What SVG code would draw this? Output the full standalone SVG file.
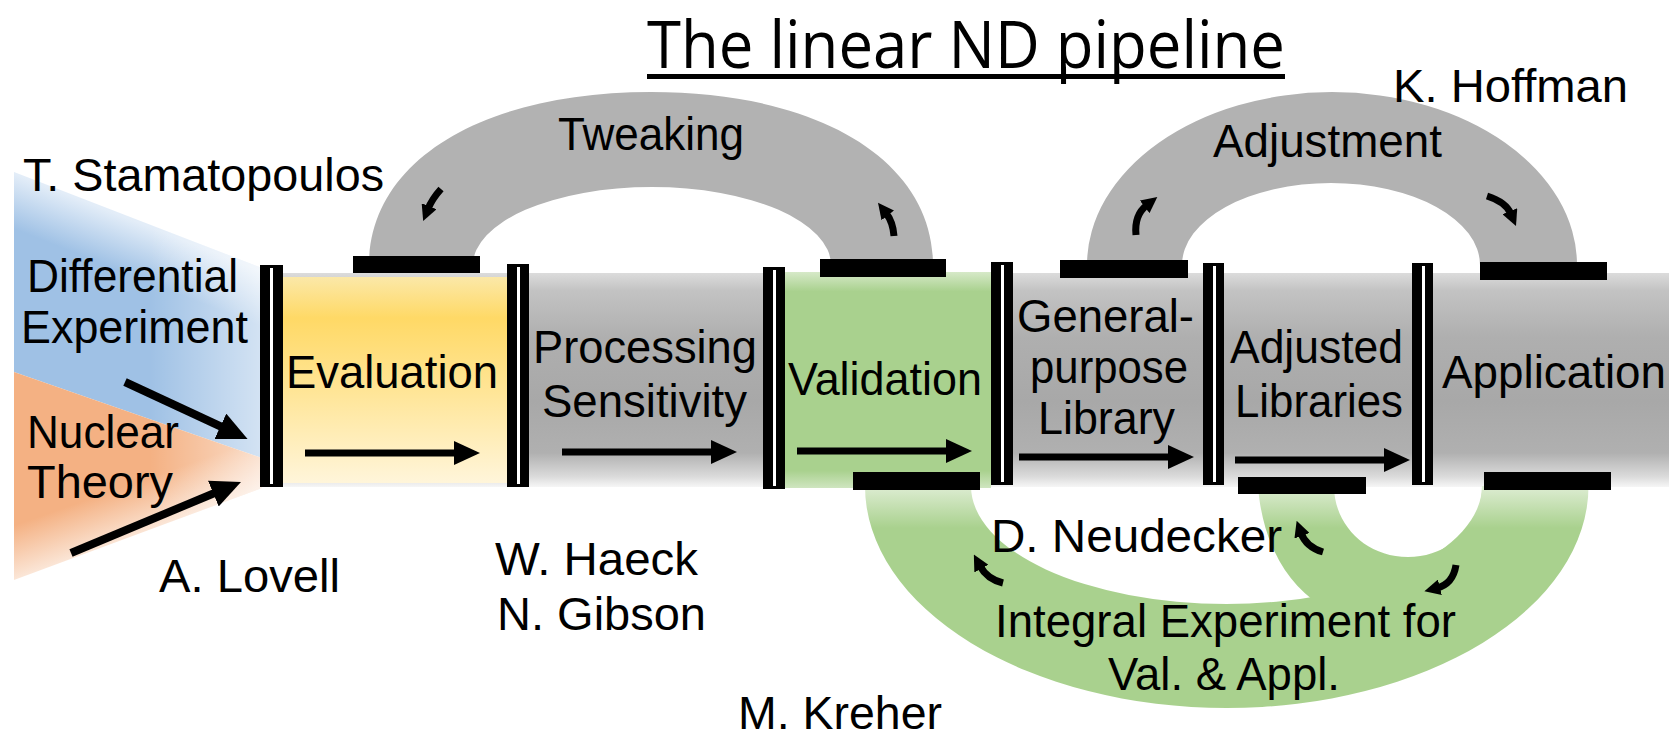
<svg xmlns="http://www.w3.org/2000/svg" width="1669" height="739" viewBox="0 0 1669 739">
<style>
  text { font-family: "Liberation Sans", Arial, sans-serif; font-size: 46px; fill: #000; }
  .title { font-family: "Open Sans", "Liberation Sans", sans-serif; font-size: 66px; }
  .cap { fill: #000; }
  .gap { fill: #fff; }
  .arch { fill: #b2b2b2; }
  .big { stroke: #000; stroke-width: 7; fill: none; marker-end: url(#bh); }
  .diag { stroke: #000; stroke-width: 8; fill: none; marker-end: url(#dh); }
  .small { stroke: #000; stroke-width: 7; fill: none; marker-end: url(#sh); }
</style>
<defs>
  <marker id="bh" markerUnits="userSpaceOnUse" viewBox="0 0 26 24" markerWidth="26" markerHeight="24" refX="4" refY="12" orient="auto"><path d="M0,0 L26,12 L0,24 z" fill="#000"/></marker>
  <marker id="dh" markerUnits="userSpaceOnUse" viewBox="0 0 30 28" markerWidth="30" markerHeight="28" refX="4" refY="14" orient="auto"><path d="M0,0 L30,14 L0,28 z" fill="#000"/></marker>
  <marker id="sh" markerUnits="userSpaceOnUse" viewBox="0 0 16 16" markerWidth="16" markerHeight="16" refX="3" refY="8" orient="auto"><path d="M0,0 L16,8 L0,16 z" fill="#000"/></marker>
  <linearGradient id="gBlue" gradientUnits="userSpaceOnUse" x1="137" y1="222" x2="118" y2="270">
    <stop offset="0" stop-color="#e3edf8"/><stop offset="1" stop-color="#9fc1e5"/>
  </linearGradient>
  <linearGradient id="gOrange" gradientUnits="userSpaceOnUse" x1="137" y1="536" x2="120" y2="488">
    <stop offset="0" stop-color="#fbe6d7"/><stop offset="1" stop-color="#f4b183"/>
  </linearGradient>
  <linearGradient id="gFadeR" gradientUnits="userSpaceOnUse" x1="150" y1="0" x2="262" y2="0">
    <stop offset="0" stop-color="#fff" stop-opacity="0"/><stop offset="1" stop-color="#fff" stop-opacity="0.55"/>
  </linearGradient>
  <linearGradient id="gPipe" gradientUnits="userSpaceOnUse" x1="0" y1="273" x2="0" y2="487">
    <stop offset="0" stop-color="#dcdcdc"/><stop offset="0.08" stop-color="#c3c3c3"/><stop offset="0.3" stop-color="#afafaf"/><stop offset="0.6" stop-color="#a8a8a8"/><stop offset="0.84" stop-color="#b0b0b0"/><stop offset="0.95" stop-color="#dadada"/><stop offset="1" stop-color="#f6f6f6"/>
  </linearGradient>
  <linearGradient id="gYellow" gradientUnits="userSpaceOnUse" x1="0" y1="277" x2="0" y2="483">
    <stop offset="0" stop-color="#fbe8a8"/><stop offset="0.2" stop-color="#ffd966"/><stop offset="0.55" stop-color="#ffe596"/><stop offset="1" stop-color="#fff5da"/>
  </linearGradient>
  <linearGradient id="gGreenBox" gradientUnits="userSpaceOnUse" x1="0" y1="272" x2="0" y2="488">
    <stop offset="0" stop-color="#d6e9c8"/><stop offset="0.09" stop-color="#a9d18e"/><stop offset="0.92" stop-color="#a9d18e"/><stop offset="1" stop-color="#cfe5c0"/>
  </linearGradient>
  <linearGradient id="gGreenLoop" gradientUnits="userSpaceOnUse" x1="0" y1="486" x2="0" y2="528">
    <stop offset="0" stop-color="#deedd3"/><stop offset="1" stop-color="#a9d18e"/>
  </linearGradient>
</defs>
<rect width="1669" height="739" fill="#fff"/>

<g id="title">
  <text class="title" x="647" y="68" textLength="638" lengthAdjust="spacingAndGlyphs">The linear ND pipeline</text>
  <rect x="647" y="74" width="638" height="5" fill="#000"/>
</g>

<g id="inputs">
  <polygon points="14,172 262,268 262,458 14,372" fill="url(#gBlue)"/>
  <polygon points="14,372 262,458 262,488 14,580" fill="url(#gOrange)"/>
  <polygon points="14,172 262,268 262,488 14,580" fill="url(#gFadeR)"/>
</g>

<g id="pipe">
  <rect x="283" y="273" width="1386" height="214" fill="url(#gPipe)"/>
</g>

<g id="tweaking-loop">
  <path class="arch" d="M369,265 C369,161 482,92 651,92 C820,92 933,161 933,265 L831,265 A179,78 0 0 0 473,265 Z"/>
  <text x="558" y="150" textLength="186" lengthAdjust="spacingAndGlyphs">Tweaking</text>
</g>

<g id="adjustment-loop">
  <path class="arch" d="M1087,265 A245,173 0 0 1 1577,265 L1480,265 A149,82 0 0 0 1182,265 Z"/>
  <text x="1213" y="157" textLength="229" lengthAdjust="spacingAndGlyphs">Adjustment</text>
</g>

<g id="integral-loop">
  <path d="M865,486 A361.75,222 0 0 0 1588.5,486 L1482,486 A255.5,118 0 0 1 971,486 Z" fill="url(#gGreenLoop)"/>
  <path d="M1258,486 C1262,540 1285,582 1320,605 L1480,640 L1589,486 L1482,486 C1482,525 1450,557 1408,557 C1366,557 1334,525 1334,486 Z" fill="url(#gGreenLoop)"/>
  <text x="995" y="637" textLength="461" lengthAdjust="spacingAndGlyphs">Integral Experiment for</text>
  <text x="1108" y="690" textLength="232" lengthAdjust="spacingAndGlyphs">Val. &amp; Appl.</text>
</g>

<g id="evaluation">
  <rect x="283" y="277" width="224" height="206" fill="url(#gYellow)"/>
  <text x="286" y="388" textLength="212" lengthAdjust="spacingAndGlyphs">Evaluation</text>
</g>

<g id="processing">
  <text x="533" y="363" textLength="224" lengthAdjust="spacingAndGlyphs">Processing</text>
  <text x="542" y="417" textLength="205" lengthAdjust="spacingAndGlyphs">Sensitivity</text>
</g>

<g id="validation">
  <rect x="785" y="272" width="206" height="216" fill="url(#gGreenBox)"/>
  <text x="788" y="395" textLength="194" lengthAdjust="spacingAndGlyphs">Validation</text>
</g>

<g id="general-library">
  <text x="1017" y="332" textLength="177" lengthAdjust="spacingAndGlyphs">General-</text>
  <text x="1030" y="383" textLength="158" lengthAdjust="spacingAndGlyphs">purpose</text>
  <text x="1038" y="434" textLength="137" lengthAdjust="spacingAndGlyphs">Library</text>
</g>

<g id="adjusted-libraries">
  <text x="1230" y="363" textLength="173" lengthAdjust="spacingAndGlyphs">Adjusted</text>
  <text x="1235" y="417" textLength="168" lengthAdjust="spacingAndGlyphs">Libraries</text>
</g>

<g id="application">
  <text x="1442" y="388" textLength="224" lengthAdjust="spacingAndGlyphs">Application</text>
</g>

<g id="differential-experiment">
  <text x="27" y="292" textLength="211" lengthAdjust="spacingAndGlyphs">Differential</text>
  <text x="21" y="343" textLength="227" lengthAdjust="spacingAndGlyphs">Experiment</text>
</g>

<g id="nuclear-theory">
  <text x="27" y="448" textLength="152" lengthAdjust="spacingAndGlyphs">Nuclear</text>
  <text x="27" y="498" textLength="146" lengthAdjust="spacingAndGlyphs">Theory</text>
</g>

<g id="gates">
  <rect class="cap" x="260" y="265" width="23" height="222"/><rect class="gap" x="270" y="268" width="3" height="216"/>
  <rect class="cap" x="507" y="264" width="22" height="223"/><rect class="gap" x="517" y="267" width="3" height="217"/>
  <rect class="cap" x="763" y="267" width="22" height="222"/><rect class="gap" x="773" y="270" width="3" height="216"/>
  <rect class="cap" x="991" y="262" width="22" height="223"/><rect class="gap" x="1001" y="265" width="3" height="217"/>
  <rect class="cap" x="1203" y="263" width="21" height="222"/><rect class="gap" x="1213" y="266" width="3" height="216"/>
  <rect class="cap" x="1412" y="263" width="21" height="222"/><rect class="gap" x="1422" y="266" width="3" height="216"/>
  <rect class="cap" x="353" y="256" width="127" height="17"/>
  <rect class="cap" x="820" y="259" width="126" height="18"/>
  <rect class="cap" x="1060" y="260" width="128" height="18"/>
  <rect class="cap" x="1480" y="262" width="127" height="18"/>
  <rect class="cap" x="853" y="472" width="127" height="18"/>
  <rect class="cap" x="1238" y="477" width="128" height="17"/>
  <rect class="cap" x="1484" y="472" width="127" height="18"/>
</g>

<g id="connectors">
  <line class="diag" x1="125" y1="382" x2="224" y2="428"/>
  <line class="diag" x1="71" y1="553" x2="217" y2="492"/>
  <line class="big" x1="305" y1="453" x2="458" y2="453"/>
  <line class="big" x1="562" y1="452" x2="715" y2="452"/>
  <line class="big" x1="797" y1="451" x2="950" y2="451"/>
  <line class="big" x1="1019" y1="457" x2="1172" y2="457"/>
  <line class="big" x1="1235" y1="460" x2="1388" y2="460"/>
  <path class="small" d="M441,189 Q432,199 428,209"/>
  <path class="small" d="M894,236 Q893,222 886,213"/>
  <path class="small" d="M1136,235 Q1134,215 1147,205"/>
  <path class="small" d="M1487,196 Q1506,202 1511,214"/>
  <path class="small" d="M1003,583 Q987,579 980,566"/>
  <path class="small" d="M1323,552 Q1306,547 1301,533"/>
  <path class="small" d="M1456,565 Q1453,584 1437,588"/>
</g>

<g id="authors">
  <text x="23" y="191" textLength="361" lengthAdjust="spacingAndGlyphs">T. Stamatopoulos</text>
  <text x="1393" y="102" textLength="235" lengthAdjust="spacingAndGlyphs">K. Hoffman</text>
  <text x="159" y="592" textLength="181" lengthAdjust="spacingAndGlyphs">A. Lovell</text>
  <text x="495" y="575" textLength="203" lengthAdjust="spacingAndGlyphs">W. Haeck</text>
  <text x="497" y="630" textLength="209" lengthAdjust="spacingAndGlyphs">N. Gibson</text>
  <text x="991" y="552" textLength="291" lengthAdjust="spacingAndGlyphs">D. Neudecker</text>
  <text x="738" y="729" textLength="204" lengthAdjust="spacingAndGlyphs">M. Kreher</text>
</g>
</svg>
